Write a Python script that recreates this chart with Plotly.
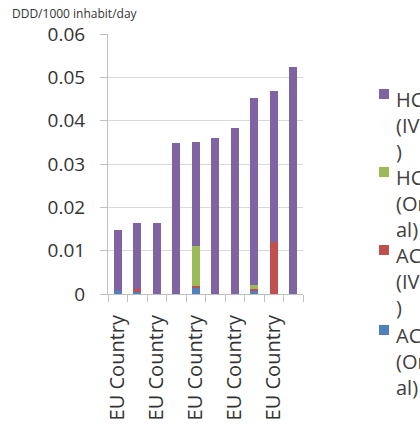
import plotly.graph_objects as go

categories = ["EU Country"] * 10
ac_oral = [0.0007, 0.0005, 0.0, 0.0, 0.0016, 0.0, 0.0, 0.0006, 0.0, 0.0]
ac_iv = [0.0, 0.0006, 0.0, 0.0, 0.0003, 0.0, 0.0, 0.0005, 0.0120, 0.0]
hc_oral = [0.0, 0.0, 0.0, 0.0, 0.0091, 0.0, 0.0, 0.0009, 0.0, 0.0]
hc_iv = [0.0140, 0.0153, 0.0164, 0.0349, 0.0240, 0.0359, 0.0382, 0.0433, 0.0349, 0.0524]
y_ticks = [0, 0.01, 0.02, 0.03, 0.04, 0.05, 0.06]
y_tick_labels = ["0", "0.01", "0.02", "0.03", "0.04", "0.05", "0.06"]
legend_labels = ["HC<br>(IV<br>)", "HC<br>(Or<br>al)", "AC<br>(IV<br>)", "AC<br>(Or<br>al)"]
y_title = "DDD/1000 inhabit/day"

colors = {"hc_iv": "#8064A2", "hc_oral": "#9BBB59", "ac_iv": "#C0504D", "ac_oral": "#4F81BD"}
FONT = "Open Sans, DejaVu Sans, sans-serif"
x = list(range(len(categories)))

fig = go.Figure()
for vals, key in [(ac_oral, "ac_oral"), (ac_iv, "ac_iv"), (hc_oral, "hc_oral"), (hc_iv, "hc_iv")]:
    fig.add_trace(go.Bar(x=x, y=vals, marker=dict(color=colors[key], line=dict(width=0)),
                         showlegend=False))

# plot area in px
L, R, T, B = 108, 303, 34, 294
W, H = 420, 424

def px_x(p):
    return (p - L) / (R - L)

def px_y(p):
    return (B - p) / (B - T)

# manual legend
legend_keys = ["hc_iv", "hc_oral", "ac_iv", "ac_oral"]
centers = [94, 172, 250, 330]
for lab, key, cy in zip(legend_labels, legend_keys, centers):
    fig.add_shape(type="rect", xref="paper", yref="paper",
                  x0=px_x(379), x1=px_x(389), y0=px_y(cy + 5), y1=px_y(cy - 5),
                  fillcolor=colors[key], line=dict(width=0))
    fig.add_annotation(xref="paper", yref="paper", x=px_x(394), y=px_y(cy - 10),
                       xanchor="left", yanchor="top", align="left", showarrow=False,
                       text=lab, font=dict(family=FONT, size=20, color="#404040"))

fig.add_annotation(xref="paper", yref="paper", x=px_x(10), y=px_y(3),
                   xanchor="left", yanchor="top", showarrow=False, text=y_title,
                   font=dict(family=FONT, size=12, color="#333333"))

fig.update_layout(
    width=W, height=H, barmode="stack", bargap=0.6,
    margin=dict(l=L, r=W - R, t=T, b=H - B, pad=0, autoexpand=False),
    paper_bgcolor="white", plot_bgcolor="white",
    font=dict(family=FONT, size=18, color="#333333"),
)
fig.update_yaxes(range=[0, 0.06], tickvals=y_ticks, ticktext=y_tick_labels,
                 showgrid=True, gridcolor="#D9D9D9", gridwidth=1,
                 showline=True, linecolor="#BFBFBF", linewidth=1,
                 ticks="outside", ticklen=7, tickcolor="#BFBFBF",
                 ticklabelstandoff=11, zeroline=False, automargin=False,
                 tickfont=dict(family=FONT, size=19, color="#333333"))
fig.update_xaxes(range=[-0.5, len(categories) - 0.5],
                 tickvals=x[::2], ticktext=categories[::2], tickangle=-90,
                 ticks="", showgrid=False, showline=True, linecolor="#BFBFBF", linewidth=1,
                 minor=dict(ticks="outside", tick0=-0.5, dtick=1, ticklen=7, tickcolor="#BFBFBF"),
                 ticklabelstandoff=12, automargin=False,
                 tickfont=dict(family=FONT, size=20, color="#333333"))

fig.write_html("out.html", config={"displayModeBar": False},
               post_script="document.body.style.margin='0';document.body.style.overflow='hidden';")
